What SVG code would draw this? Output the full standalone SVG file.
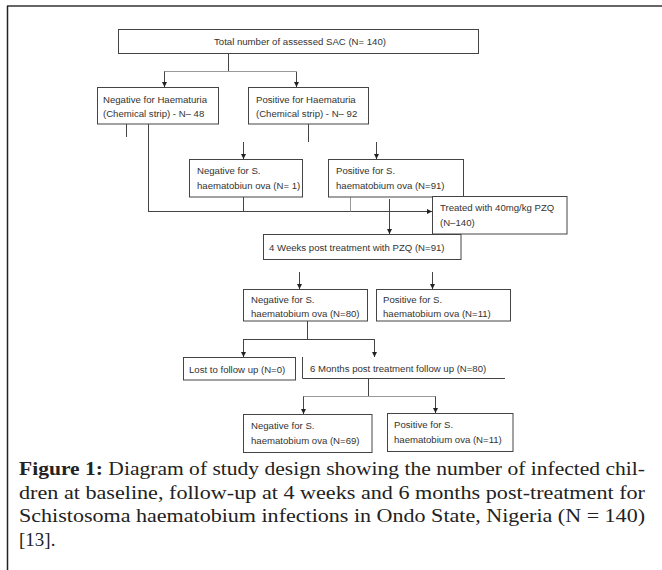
<svg xmlns="http://www.w3.org/2000/svg" width="662" height="570" viewBox="0 0 662 570">
<defs>
<style>
.box{fill:#fff;stroke:#444;stroke-width:1}
.ln{fill:none;stroke:#444;stroke-width:1}
.lg{fill:none;stroke:#999;stroke-width:1}
.t{font-family:"Liberation Sans",Arial,sans-serif;font-size:9.6px;fill:#333}
.cap{font-family:"Liberation Serif","Times New Roman",serif;font-size:19px;fill:#222}
</style>
<marker id="ah" viewBox="0 0 10 10" refX="10" refY="5" markerWidth="5" markerHeight="5" orient="auto">
<path d="M0,0 L10,5 L0,10 z" fill="#222"/>
</marker>
</defs>
<rect width="662" height="570" fill="#fff"/>
<line x1="7" y1="6" x2="662" y2="6" stroke="#666" stroke-width="2"/>
<line x1="7.5" y1="6" x2="7.5" y2="570" stroke="#222" stroke-width="1.5"/>

<g id="connectors">
<path class="ln" d="M228.5,53 V71.5"/>
<path class="lg" d="M164,71.5 H296"/>
<path class="ln" d="M164.5,71.5 V87" marker-end="url(#ah)"/>
<path class="ln" d="M296.5,71.5 V87" marker-end="url(#ah)"/>
<path class="ln" d="M126.5,124 V137"/>
<path class="ln" d="M148.5,124 V211.5"/>
<path class="ln" d="M308.5,124 V142"/>
<path class="ln" d="M243.5,142 V159" marker-end="url(#ah)"/>
<path class="ln" d="M376.5,142 V159" marker-end="url(#ah)"/>
<path class="ln" d="M148,211.5 H432" marker-end="url(#ah)"/>
<path class="ln" d="M243.5,197 V211.5"/>
<path class="lg" d="M350.5,197 V211.5"/>
<path class="ln" d="M389.5,199 V234" marker-end="url(#ah)"/>
<path class="ln" d="M299.5,272 V289" marker-end="url(#ah)"/>
<path class="ln" d="M432.5,272 V289" marker-end="url(#ah)"/>
<path class="ln" d="M307.5,321 V339.5"/>
<path class="ln" d="M243,339.5 H375"/>
<path class="ln" d="M243.5,339.5 V357" marker-end="url(#ah)"/>
<path class="ln" d="M374.5,339.5 V357" marker-end="url(#ah)"/>
<path class="ln" d="M368.5,378 V396.5"/>
<path class="lg" d="M303,396.5 H436"/>
<path class="ln" d="M303.5,396.5 V414" marker-end="url(#ah)"/>
<path class="ln" d="M435.5,396.5 V413" marker-end="url(#ah)"/>
</g>

<g id="n-total">
<rect class="box" x="118.5" y="29.5" width="360" height="24"/>
<text class="t" x="214" y="45">Total number of assessed SAC (N= 140)</text>
</g>
<g id="n-neg-haem">
<rect class="box" x="97.5" y="87.5" width="121" height="36.5"/>
<text class="t" x="103" y="103">Negative for Haematuria</text>
<text class="t" x="103" y="116.5">(Chemical strip) - N– 48</text>
</g>
<g id="n-pos-haem">
<rect class="box" x="248.5" y="87.5" width="120" height="36.5"/>
<text class="t" x="256" y="103">Positive for Haematuria</text>
<text class="t" x="256" y="116.5">(Chemical strip) - N– 92</text>
</g>
<g id="n-neg-s1">
<rect class="box" x="189.5" y="159.5" width="113" height="37.5"/>
<text class="t" x="197" y="174">Negative for S.</text>
<text class="t" x="197" y="189">haematobiun ova (N= 1)</text>
</g>
<g id="n-pos-s1">
<rect class="box" x="328.5" y="159.5" width="135" height="37.5"/>
<text class="t" x="336" y="174">Positive for S.</text>
<text class="t" x="336" y="189">haematobium ova (N=91)</text>
</g>
<g id="n-treated">
<rect class="box" x="432.5" y="196.5" width="134.5" height="37.5"/>
<text class="t" x="440" y="211">Treated with 40mg/kg PZQ</text>
<text class="t" x="440" y="225.5">(N–140)</text>
</g>
<g id="n-4weeks">
<rect class="box" x="263.5" y="234.5" width="197.5" height="25"/>
<text class="t" x="269" y="250.5">4 Weeks post treatment with PZQ (N=91)</text>
</g>
<g id="n-neg-s80">
<rect class="box" x="243.5" y="289.5" width="124" height="31.5"/>
<text class="t" x="251" y="303">Negative for S.</text>
<text class="t" x="251" y="316.5">haematobium ova (N=80)</text>
</g>
<g id="n-pos-s11a">
<rect class="box" x="376.5" y="289.5" width="134" height="31.5"/>
<text class="t" x="383" y="303">Positive for S.</text>
<text class="t" x="383" y="316.5">haematobium ova (N=11)</text>
</g>
<g id="n-lost">
<rect class="box" x="183.5" y="357.5" width="112" height="22.5"/>
<text class="t" x="189" y="372.5">Lost to follow up (N=0)</text>
</g>
<g id="n-6months">
<path class="ln" d="M302.5,357 V378.5 H505" stroke="#888"/>
<text class="t" x="310" y="371.5">6 Months post treatment follow up (N=80)</text>
</g>
<g id="n-neg-s69">
<rect class="box" x="243.5" y="414.5" width="128.5" height="38"/>
<text class="t" x="251" y="428.5">Negative for S.</text>
<text class="t" x="251" y="443.5">haematobium ova (N=69)</text>
</g>
<g id="n-pos-s11b">
<rect class="box" x="387.5" y="413.5" width="125.5" height="38"/>
<text class="t" x="394" y="427.5">Positive for S.</text>
<text class="t" x="394" y="442.5">haematobium ova (N=11)</text>
</g>

<g id="caption">
<text class="cap" x="19" y="475" textLength="626" lengthAdjust="spacingAndGlyphs"><tspan font-weight="bold">Figure 1:</tspan> Diagram of study design showing the number of infected chil-</text>
<text class="cap" x="19" y="498.5" textLength="626" lengthAdjust="spacingAndGlyphs">dren at baseline, follow-up at 4 weeks and 6 months post-treatment for</text>
<text class="cap" x="19" y="522" textLength="626" lengthAdjust="spacingAndGlyphs">Schistosoma haematobium infections in Ondo State, Nigeria (N = 140)</text>
<text class="cap" x="19" y="545.5">[13].</text>
</g>
</svg>
